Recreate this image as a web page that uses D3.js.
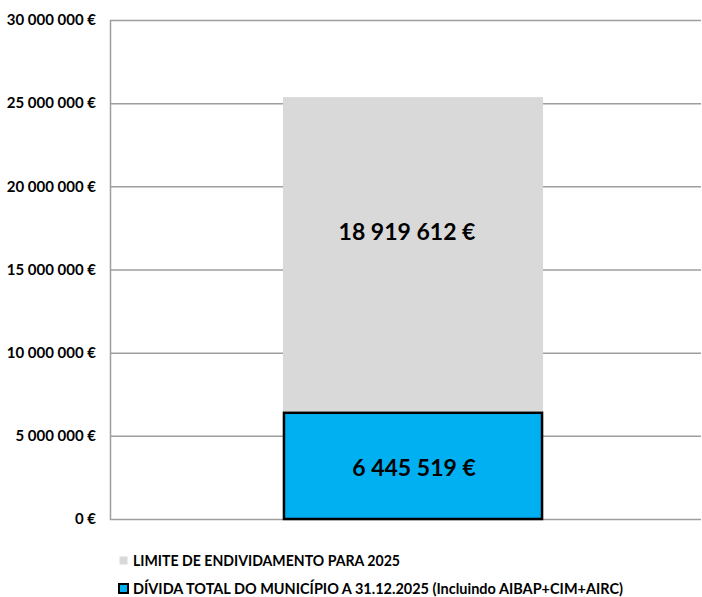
<!DOCTYPE html>
<html>
<head>
<meta charset="utf-8">
<script src="https://cdn.jsdelivr.net/npm/d3@7"></script>
<style>
  html, body { margin: 0; padding: 0; background: #fff; }
  svg { display: block; font-family: Lato, "Open Sans", sans-serif; }
</style>
</head>
<body>
<svg id="chart" width="702" height="597"></svg>
<script>
// Series (stacked, bottom to top)
const seriesNames = [
  "DÍVIDA TOTAL DO MUNICÍPIO A 31.12.2025 (Incluindo AIBAP+CIM+AIRC)",
  "LIMITE DE ENDIVIDAMENTO PARA 2025"
];
const seriesValues = [6445519, 18919612];
const seriesColors = ["#00B0F0", "#D9D9D9"];
const seriesStroke = ["#000000", "none"];
const yTicks = [0, 5000000, 10000000, 15000000, 20000000, 25000000, 30000000];
const category = ["2025"];

const svg = d3.select("#chart");
const margin = { left: 110, right: 1, top: 20, bottom: 78 };
const W = 702, H = 597;

const x = d3.scaleBand().domain(category).range([margin.left, 716]).paddingInner(0).paddingOuter(0.665);
const y = d3.scaleLinear().domain([0, 30000000]).range([H - margin.bottom, margin.top]);

const fmt = v => d3.format(",.0f")(v).replace(/,/g, " ") + " €";

// Gridlines
svg.append("g")
  .selectAll("line")
  .data(yTicks)
  .join("line")
  .attr("x1", margin.left).attr("x2", W - margin.right)
  .attr("y1", d => y(d) + 0.5).attr("y2", d => y(d) + 0.5)
  .attr("stroke", "#9E9E9E").attr("stroke-width", 1.5);

// Left axis line
svg.append("line")
  .attr("x1", margin.left + 0.5).attr("x2", margin.left + 0.5)
  .attr("y1", y(30000000)).attr("y2", y(0) + 1)
  .attr("stroke", "#9E9E9E").attr("stroke-width", 1.5);

// Y axis labels
const yAxis = d3.axisLeft(y).tickValues(yTicks).tickSize(0).tickPadding(14).tickFormat(fmt);
const gy = svg.append("g").attr("transform", `translate(${margin.left},0)`).call(yAxis);
gy.select(".domain").remove();
gy.selectAll("text")
  .attr("font-family", "Lato, sans-serif")
  .attr("font-weight", "bold").attr("font-size", 15).attr("fill", "#000");

// Stacked bars
let base = 0;
const stacks = seriesValues.map((v, i) => {
  const s = { i, y0: base, y1: base + v, v };
  base += v;
  return s;
});

const bw = x.bandwidth();
const bx = x("2025");

svg.append("g").selectAll("rect")
  .data(stacks.slice().reverse())
  .join("rect")
  .attr("x", d => d.i === 0 ? bx + 1 : bx)
  .attr("width", d => d.i === 0 ? bw - 2 : bw)
  .attr("y", d => y(d.y1) + (d.i === 0 ? 1 : 0))
  .attr("height", d => y(d.y0) - y(d.y1) - (d.i === 0 ? 1 : 0))
  .attr("fill", d => seriesColors[d.i])
  .attr("stroke", d => seriesStroke[d.i])
  .attr("stroke-width", 2.5);

// Value labels (upper label sits a little above and left of the segment centre)
const labelShiftY = [2, -23];
const labelShiftX = [1, -6];
svg.append("g").selectAll("text")
  .data(stacks)
  .join("text")
  .attr("x", d => bx + bw / 2 + labelShiftX[d.i])
  .attr("y", d => (y(d.y0) + y(d.y1)) / 2 + labelShiftY[d.i])
  .attr("dy", "0.36em")
  .attr("text-anchor", "middle")
  .attr("font-weight", "bold").attr("font-size", 23)
  .attr("fill", "#000")
  .text(d => fmt(d.v));

// Legend (top entry: last series)
const legend = svg.append("g");
const legendOrder = [1, 0];
legendOrder.forEach((si, k) => {
  const ly = 561 + k * 28;
  const g = legend.append("g").attr("transform", `translate(119, ${ly})`);
  g.append("rect")
    .attr("x", si === 0 ? 0 : 0.5).attr("y", si === 0 ? -5 : -4.5)
    .attr("width", si === 0 ? 9 : 8).attr("height", si === 0 ? 9 : 8)
    .attr("fill", seriesColors[si])
    .attr("stroke", seriesStroke[si]).attr("stroke-width", 2);
  g.append("text")
    .attr("x", 14).attr("y", 0).attr("dy", "0.36em")
    .attr("font-weight", "bold").attr("font-size", 14.3).attr("fill", "#000")
    .attr("textLength", si === 0 ? 490 : 267)
    .attr("lengthAdjust", "spacingAndGlyphs")
    .text(seriesNames[si]);
});
</script>
</body>
</html>
